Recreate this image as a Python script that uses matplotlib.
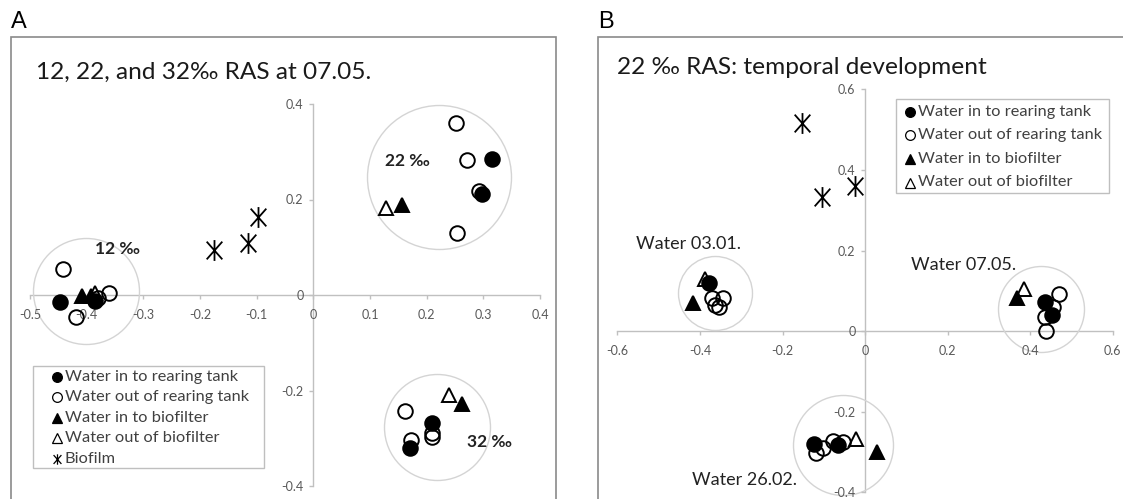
import matplotlib.pyplot as plt
from matplotlib.lines import Line2D
from matplotlib.patches import Rectangle
from matplotlib.path import Path

W, H = 1123, 499
plt.rcParams['font.family'] = ['Lato', 'DejaVu Sans']

# ---- Panel A: 12, 22, 32 permille RAS at 07.05.
a_in_tank_x = [-0.447, -0.386, 0.315, 0.298, 0.209, 0.171]
a_in_tank_y = [-0.014, -0.012, 0.284, 0.211, -0.269, -0.321]
a_out_tank_x = [-0.442, -0.419, -0.380, -0.361, 0.252, 0.271, 0.293, 0.253, 0.162, 0.209, 0.209, 0.173]
a_out_tank_y = [0.054, -0.047, -0.007, 0.004, 0.360, 0.283, 0.218, 0.130, -0.242, -0.288, -0.298, -0.304]
a_in_bio_x = [-0.408, -0.392, 0.156, 0.262]
a_in_bio_y = [-0.002, -0.002, 0.188, -0.228]
a_out_bio_x = [-0.386, 0.129, 0.239]
a_out_bio_y = [0.004, 0.182, -0.209]
a_biofilm_x = [-0.097, -0.116, -0.176]
a_biofilm_y = [0.163, 0.109, 0.094]
a_groups = ['12 ‰', '22 ‰', '32 ‰']
a_group_x = [-0.401, 0.221, 0.219]
a_group_y = [0.009, 0.247, -0.276]
a_label_x = [-0.346, 0.166, 0.310]
a_label_y = [0.096, 0.281, -0.308]

# ---- Panel B: 22 permille RAS, temporal development
b_in_tank_x = [-0.378, 0.435, 0.453, -0.124, -0.066]
b_in_tank_y = [0.119, 0.072, 0.039, -0.280, -0.282]
b_out_tank_x = [-0.372, -0.344, -0.364, -0.354, 0.469, 0.455, 0.435, 0.437, -0.118, -0.102, -0.078, -0.054]
b_out_tank_y = [0.081, 0.081, 0.064, 0.060, 0.093, 0.060, 0.035, 0.000, -0.303, -0.290, -0.272, -0.274]
b_in_bio_x = [-0.417, 0.368, 0.029]
b_in_bio_y = [0.070, 0.083, -0.301]
b_out_bio_x = [-0.389, 0.385, -0.023]
b_out_bio_y = [0.130, 0.105, -0.268]
b_biofilm_x = [-0.152, -0.105, -0.025]
b_biofilm_y = [0.516, 0.333, 0.360]
b_groups = ['Water 03.01.', 'Water 07.05.', 'Water 26.02.']
b_group_x = [-0.364, 0.425, -0.054]
b_group_y = [0.095, 0.056, -0.282]
b_label_x = [-0.427, 0.238, -0.292]
b_label_y = [0.216, 0.163, -0.369]

names = ['Water in to rearing tank', 'Water out of rearing tank',
         'Water in to biofilter', 'Water out of biofilter', 'Biofilm']

AX_C = '#c0c0c0'
TXT_C = '#595959'
# excel-like star: X with a vertical bar
STAR = Path([(0, -1), (0, 1), (-0.75, -0.85), (0.75, 0.85), (-0.75, 0.85), (0.75, -0.85)],
            [Path.MOVETO, Path.LINETO] * 3)
SPECS = [('o', 'black'), ('o', 'none'), ('^', 'black'), ('^', 'none'), (STAR, 'black')]


def px_box(x0, y0, x1, y1):
    # pixel box (top-left origin) -> figure fraction rect
    return [x0 / W, 1 - y1 / H, (x1 - x0) / W, (y1 - y0) / H]


def setup_axes(ax, xt, yt):
    ax.patch.set_alpha(0)
    for s in ['top', 'right']:
        ax.spines[s].set_visible(False)
    ax.spines['left'].set_position(('data', 0))
    ax.spines['bottom'].set_position(('data', 0))
    for s in ['left', 'bottom']:
        ax.spines[s].set_color(AX_C)
        ax.spines[s].set_linewidth(1)
        ax.spines[s].set_zorder(0)
    ax.set_xticks(xt)
    ax.set_yticks(yt)
    ax.set_xticklabels(['0' if abs(v) < 1e-9 else f'{v:g}' for v in xt])
    ax.set_yticklabels(['0' if abs(v) < 1e-9 else f'{v:g}' for v in yt])
    ax.tick_params(direction='out', length=3, width=1, color=AX_C,
                   labelcolor=TXT_C, labelsize=9)
    ax.tick_params(axis='x', pad=7)
    ax.tick_params(axis='y', pad=4)


def draw(ax, d, circle_r):
    gx, gy = d['group']
    for x, y, r in zip(gx, gy, circle_r):
        ax.plot(x, y, 'o', ms=2 * r * 0.72, mfc='none', mec='#d4d4d4',
                mew=1, zorder=1, clip_on=False)
    kw = dict(ls='none', ms=10.5, mew=1.4, mec='black', clip_on=False)
    ax.plot(*d['out_tank'], marker='o', mfc='none', zorder=3, **kw)
    ax.plot(*d['out_bio'], marker='^', mfc='none', zorder=3, **kw)
    ax.plot(*d['in_tank'], marker='o', mfc='black', zorder=4, **kw)
    ax.plot(*d['in_bio'], marker='^', mfc='black', zorder=4, **kw)
    ax.plot(*d['biofilm'], marker=STAR, ms=15, mew=1.3, color='black',
            ls='none', zorder=4, clip_on=False)


def legend_box(n, box, mark_x, text_x, row_y, step):
    x0, y0, x1, y1 = box
    fig.add_artist(Rectangle((x0 / W, 1 - y1 / H), (x1 - x0) / W, (y1 - y0) / H,
                             transform=fig.transFigure, fc='white', ec='#bfbfbf', lw=1))
    for i in range(n):
        m, fc = SPECS[i]
        yy = 1 - (row_y + i * step) / H
        fig.add_artist(Line2D([mark_x / W], [yy], transform=fig.transFigure, ls='none',
                              marker=m, mfc=fc, mec='black', color='black',
                              ms=7.5 if m is STAR else 7, mew=0.9))
        fig.text(text_x / W, yy, names[i], fontsize=11.8, color='#404040', va='center')


fig = plt.figure(figsize=(W / 100, H / 100), dpi=100)

# panel frames
fig.add_artist(Rectangle((10.5 / W, -0.05), (556 - 10.5) / W, 1.05 - 37 / H,
                         transform=fig.transFigure, fill=False, ec='#8a8a8a', lw=1.2))
fig.add_artist(Rectangle((597.5 / W, -0.05), 0.6, 1.05 - 37 / H,
                         transform=fig.transFigure, fill=False, ec='#8a8a8a', lw=1.2))
fig.text(11 / W, 1 - 22 / H, 'A', fontsize=17, family='Liberation Sans', va='center')
fig.text(598 / W, 1 - 22 / H, 'B', fontsize=17, family='Liberation Sans', va='center')

# ---- A
axA = fig.add_axes(px_box(30, 104, 540, 486))
axA.set_xlim(-0.5, 0.4)
axA.set_ylim(-0.4, 0.4)
setup_axes(axA, [-0.5, -0.4, -0.3, -0.2, -0.1, 0, 0.1, 0.2, 0.3, 0.4],
           [-0.4, -0.2, 0, 0.2, 0.4])
draw(axA, dict(in_tank=(a_in_tank_x, a_in_tank_y), out_tank=(a_out_tank_x, a_out_tank_y),
               in_bio=(a_in_bio_x, a_in_bio_y), out_bio=(a_out_bio_x, a_out_bio_y),
               biofilm=(a_biofilm_x, a_biofilm_y), group=(a_group_x, a_group_y)),
     [53, 72, 53])
for t, x, y in zip(a_groups, a_label_x, a_label_y):
    axA.text(x, y, t, ha='center', va='center', fontsize=12.5, weight='bold',
             color='#222222', zorder=5)
fig.text(36 / W, 1 - 72 / H, '12, 22, and 32‰ RAS at 07.05.', fontsize=17.6,
         color='#1a1a1a', va='center')
legend_box(5, (33, 366, 264, 468), 57, 65, 376.5, 20.6)

# ---- B
axB = fig.add_axes(px_box(617.4, 89.3, 1112.8, 492.3))
axB.set_xlim(-0.6, 0.6)
axB.set_ylim(-0.4, 0.6)
setup_axes(axB, [-0.6, -0.4, -0.2, 0, 0.2, 0.4, 0.6], [-0.4, -0.2, 0, 0.2, 0.4, 0.6])
draw(axB, dict(in_tank=(b_in_tank_x, b_in_tank_y), out_tank=(b_out_tank_x, b_out_tank_y),
               in_bio=(b_in_bio_x, b_in_bio_y), out_bio=(b_out_bio_x, b_out_bio_y),
               biofilm=(b_biofilm_x, b_biofilm_y), group=(b_group_x, b_group_y)),
     [37, 43, 50])
for t, x, y in zip(b_groups, b_label_x, b_label_y):
    axB.text(x, y, t, ha='center', va='center', fontsize=13, color='#222222', zorder=5)
fig.text(617 / W, 1 - 67 / H, '22 ‰ RAS: temporal development', fontsize=17.6,
         color='#1a1a1a', va='center')
legend_box(4, (896, 99, 1109, 193), 910, 918, 111.7, 23.6)

fig.savefig('out.png', dpi=100)
